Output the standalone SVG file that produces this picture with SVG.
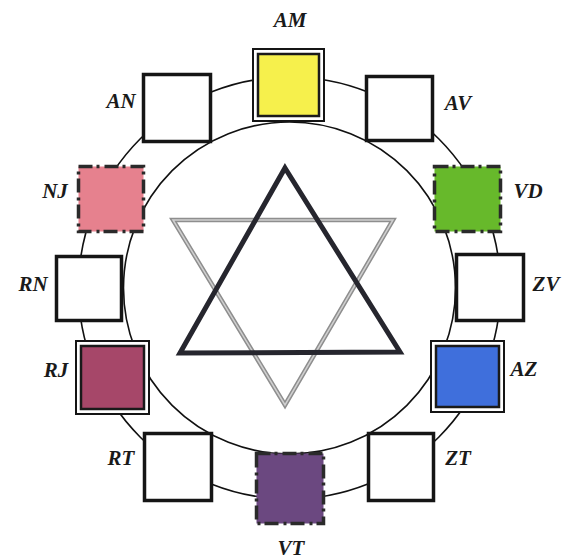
<svg xmlns="http://www.w3.org/2000/svg" width="566" height="559" viewBox="0 0 566 559">
<style>
.ring{fill:none;stroke:#111;stroke-width:1.6}
.box{fill:#fff;stroke:#151515;stroke-width:3.5}
.outer{fill:#fff;stroke:#151515;stroke-width:2}
.inner{stroke:#1a1a1a;stroke-width:2.5}
.fuzzy{stroke:#2a2a2a;stroke-width:3.5;stroke-dasharray:14 4 3 5}
.lbl{font-family:"Liberation Serif","Times New Roman",serif;font-weight:bold;font-style:italic;font-size:21px;fill:#1a1a1a;text-anchor:middle}
</style>
<rect width="566" height="559" fill="#fff"/>
<g id="connectors">
<circle class="ring" cx="289.5" cy="288" r="166"/>
<circle class="ring" cx="289.5" cy="288" r="211"/>
</g>
<g id="star">
<polygon points="173,220 393,220 285,405" fill="none" stroke="#8e8e8e" stroke-width="4.5" stroke-linejoin="miter"/>
<polygon points="173,220 393,220 285,405" fill="none" stroke="#d0d0d0" stroke-width="1.5"/>
<polygon points="285,168 400,352 180,353" fill="none" stroke="#26262e" stroke-width="5" stroke-linejoin="miter"/>
</g>
<g id="AM">
<rect class="outer" x="253" y="49" width="71" height="72"/>
<rect class="inner" x="258" y="54" width="61" height="62" fill="#f6f04c"/>
<text class="lbl" x="290" y="27">AM</text>
</g>
<g id="AV">
<rect class="box" x="366.5" y="76.5" width="66" height="64"/>
<text class="lbl" x="458" y="110">AV</text>
</g>
<g id="VD">
<rect class="fuzzy" x="434.5" y="166.5" width="66" height="65" fill="#67b92b"/>
<text class="lbl" x="528" y="198">VD</text>
</g>
<g id="ZV">
<rect class="box" x="456.5" y="254.5" width="67" height="66"/>
<text class="lbl" x="546" y="291">ZV</text>
</g>
<g id="AZ">
<rect class="outer" x="431" y="341" width="73" height="71"/>
<rect class="inner" x="436" y="346" width="63" height="61" fill="#3f6fdc"/>
<text class="lbl" x="524" y="376">AZ</text>
</g>
<g id="ZT">
<rect class="box" x="368.5" y="433.5" width="65" height="67"/>
<text class="lbl" x="458" y="465">ZT</text>
</g>
<g id="VT">
<rect class="fuzzy" x="256.5" y="453.5" width="67" height="70" fill="#6b4880" stroke="#452a55"/>
<text class="lbl" x="291" y="555">VT</text>
</g>
<g id="RT">
<rect class="box" x="144.5" y="433.5" width="67" height="67"/>
<text class="lbl" x="121" y="465">RT</text>
</g>
<g id="RJ">
<rect class="outer" x="76" y="341" width="73" height="73"/>
<rect class="inner" x="81" y="346" width="63" height="63" fill="#a64769"/>
<text class="lbl" x="56" y="377">RJ</text>
</g>
<g id="RN">
<rect class="box" x="56.5" y="256.5" width="65" height="64"/>
<text class="lbl" x="33" y="291">RN</text>
</g>
<g id="NJ">
<rect class="fuzzy" x="78.5" y="166.5" width="65" height="65" fill="#e6818e"/>
<text class="lbl" x="55" y="198">NJ</text>
</g>
<g id="AN">
<rect class="box" x="143.5" y="74.5" width="67" height="67"/>
<text class="lbl" x="121" y="108">AN</text>
</g>
</svg>
